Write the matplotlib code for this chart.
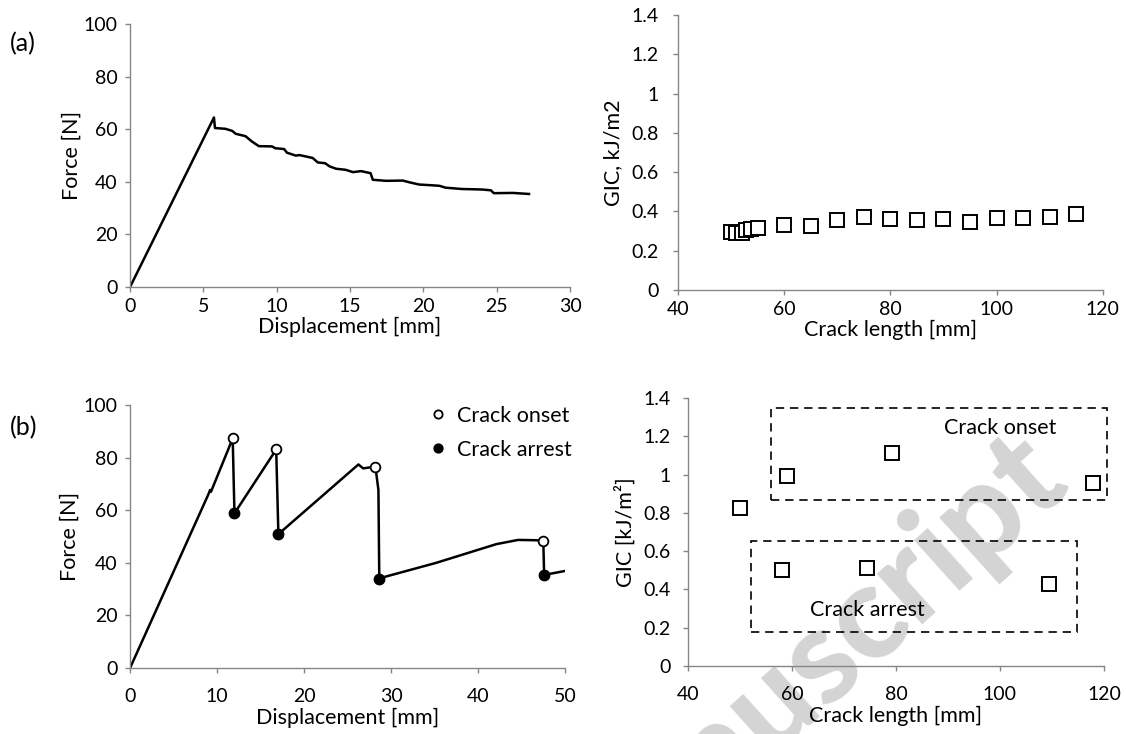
import matplotlib
matplotlib.use("Agg")
import matplotlib.pyplot as plt
from matplotlib.patches import Rectangle
from matplotlib.ticker import FuncFormatter, MultipleLocator

plt.rcParams['font.family'] = ['Lato', 'DejaVu Sans']

# ---------------- data ----------------
# (a) left: force-displacement curve
a_disp = [0, 5.72, 5.79, 6.5, 6.97, 7.2, 7.87, 8.3, 8.78, 9.68, 9.9, 10.5, 10.7, 11.3, 11.55,
          12.45, 12.8, 13.3, 13.6, 14.05, 14.7, 15.2, 15.75, 16.4, 16.55, 17.45, 18.6, 19.0,
          19.7, 20.6, 21.1, 21.5, 22.6, 24.0, 24.6, 24.8, 26.1, 27.2]
a_force = [0, 64.5, 60.5, 60.2, 59.4, 58.3, 57.4, 55.4, 53.6, 53.5, 52.8, 52.5, 51.1, 50.0, 50.2,
           49.1, 47.4, 47.1, 45.9, 45.0, 44.6, 43.7, 44.1, 43.3, 40.8, 40.4, 40.5, 39.9,
           39.0, 38.7, 38.5, 37.8, 37.3, 37.1, 36.8, 35.7, 35.8, 35.4]

# (a) right: GIC vs crack length
a_crack = [50, 51, 52, 52.8, 53.8, 55, 60, 65, 70, 75, 80, 85, 90, 95, 100, 105, 110, 115]
a_gic = [0.295, 0.29, 0.29, 0.305, 0.31, 0.315, 0.33, 0.325, 0.355, 0.37, 0.36, 0.355,
         0.362, 0.347, 0.365, 0.367, 0.37, 0.385]

# (b) left: force-displacement curve with onset/arrest points
b_disp = [0, 9.0, 9.2, 9.3, 11.8, 12.0, 16.8, 17.05, 26.25, 26.8, 27.6, 28.2, 28.55, 28.65,
          29.1, 35.2, 42.1, 44.6, 46.5, 47.5, 47.6, 50.0]
b_force = [0, 66.0, 67.7, 67.0, 87.3, 58.8, 83.1, 50.9, 77.4, 75.9, 76.3, 76.6, 67.7, 33.7,
           34.5, 40.0, 47.1, 48.7, 48.6, 48.4, 35.4, 36.9]
onset_disp = [11.8, 16.8, 28.2, 47.5]
onset_force = [87.3, 83.1, 76.6, 48.4]
arrest_disp = [12.0, 17.05, 28.65, 47.6]
arrest_force = [58.8, 50.9, 33.7, 35.4]

# (b) right: GIC vs crack length
b_crack = [50.0, 59.1, 79.3, 117.9, 58.0, 74.5, 109.4]
b_gic = [0.825, 0.995, 1.112, 0.954, 0.502, 0.514, 0.427]

# ---------------- style helpers ----------------
SPINE = '#868686'
TICK_FS = 14
LAB_FS = 15.5
H = 734


def excel_axes(ax, xpad, ypad):
    ax.set_facecolor('none')
    for s in ['top', 'right']:
        ax.spines[s].set_visible(False)
    for s in ['left', 'bottom']:
        ax.spines[s].set_color(SPINE)
        ax.spines[s].set_linewidth(1.0)
    ax.tick_params(direction='out', length=3.6, width=1.0, color=SPINE,
                   labelsize=TICK_FS, labelcolor='black')
    ax.tick_params(axis='x', pad=xpad)
    ax.tick_params(axis='y', pad=ypad)


fmt = FuncFormatter(lambda v, p: f"{round(v, 1):g}")

fig = plt.figure(figsize=(11.26, 7.34), dpi=100)

# watermark
fig.text(1073, H - 490, "Accepted Manuscript", transform=None, fontsize=95, fontweight='black',
         color='#d4d4d4', rotation=42, rotation_mode='anchor', ha='right', va='baseline',
         zorder=-5)

# ---- (a) left
ax1 = fig.add_axes([0.1155, 0.609, 0.3908, 0.358])
excel_axes(ax1, 4.5, 5.5)
ax1.plot(a_disp, a_force, color='black', lw=1.8)
ax1.set_xlim(0, 30)
ax1.set_ylim(0, 100)
ax1.xaxis.set_major_locator(MultipleLocator(5))
ax1.yaxis.set_major_locator(MultipleLocator(20))
ax1.set_xlabel("Displacement [mm]", fontsize=LAB_FS, labelpad=1)
ax1.set_ylabel("Force [N]", fontsize=LAB_FS, labelpad=1)

# ---- (a) right
ax2 = fig.add_axes([0.602, 0.6049, 0.3774, 0.3747])
excel_axes(ax2, 4.5, 10)
ax2.plot(a_crack, a_gic, linestyle='none', marker='s', markersize=10,
         markerfacecolor='white', markeredgecolor='black', markeredgewidth=1.4)
ax2.set_xlim(40, 120)
ax2.set_ylim(0, 1.4)
ax2.xaxis.set_major_locator(MultipleLocator(20))
ax2.yaxis.set_major_locator(MultipleLocator(0.2))
ax2.yaxis.set_major_formatter(fmt)
ax2.set_xlabel("Crack length [mm]", fontsize=LAB_FS, labelpad=1)
ax2.set_ylabel("GIC, kJ/m2", fontsize=LAB_FS, labelpad=6)

# ---- (b) left
ax3 = fig.add_axes([0.1155, 0.0899, 0.3863, 0.3583])
excel_axes(ax3, 11, 5.5)
ax3.plot(b_disp, b_force, color='black', lw=1.8, zorder=2)
ax3.plot(onset_disp, onset_force, linestyle='none', marker='o', markersize=7,
         markerfacecolor='white', markeredgecolor='black', markeredgewidth=1.3,
         label='Crack onset', zorder=3)
ax3.plot(arrest_disp, arrest_force, linestyle='none', marker='o', markersize=7.5,
         markerfacecolor='black', markeredgecolor='black', label='Crack arrest', zorder=3)
ax3.set_xlim(0, 50)
ax3.set_ylim(0, 100)
ax3.xaxis.set_major_locator(MultipleLocator(10))
ax3.yaxis.set_major_locator(MultipleLocator(20))
ax3.set_xlabel("Displacement [mm]", fontsize=LAB_FS, labelpad=2)
ax3.set_ylabel("Force [N]", fontsize=LAB_FS, labelpad=3)
leg = ax3.legend(loc='upper right', bbox_to_anchor=(1.06, 1.07), frameon=False,
                 fontsize=LAB_FS, handlelength=0.8, handletextpad=0.5,
                 labelspacing=0.65, markerscale=0.85)

# ---- (b) right
ax4 = fig.add_axes([0.611, 0.0926, 0.3694, 0.3651])
excel_axes(ax4, 11, 9)
ax4.plot(b_crack, b_gic, linestyle='none', marker='s', markersize=10,
         markerfacecolor='white', markeredgecolor='black', markeredgewidth=1.4, zorder=3)
ax4.set_xlim(40, 120)
ax4.set_ylim(0, 1.4)
ax4.xaxis.set_major_locator(MultipleLocator(20))
ax4.yaxis.set_major_locator(MultipleLocator(0.2))
ax4.yaxis.set_major_formatter(fmt)
ax4.set_xlabel("Crack length [mm]", fontsize=LAB_FS, labelpad=2)
ax4.set_ylabel("GIC [kJ/m²]", fontsize=LAB_FS, labelpad=5)
ax4.add_patch(Rectangle((55.9, 0.865), 120.6 - 55.9, 1.348 - 0.865, fill=False,
                        edgecolor='black', lw=1.2, linestyle=(0, (5, 3.5)), clip_on=False))
ax4.add_patch(Rectangle((52.1, 0.18), 114.8 - 52.1, 0.655 - 0.18, fill=False,
                        edgecolor='black', lw=1.2, linestyle=(0, (5, 3.5)), clip_on=False))
ax4.text(100, 1.243, "Crack onset", fontsize=LAB_FS, ha='center', va='center')
ax4.text(74.5, 0.293, "Crack arrest", fontsize=LAB_FS, ha='center', va='center')

# panel labels
fig.text(10, H - 44, "(a)", transform=None, fontsize=18, ha='left', va='center')
fig.text(10, H - 428, "(b)", transform=None, fontsize=18, ha='left', va='center')

fig.savefig("out.png", dpi=100)
